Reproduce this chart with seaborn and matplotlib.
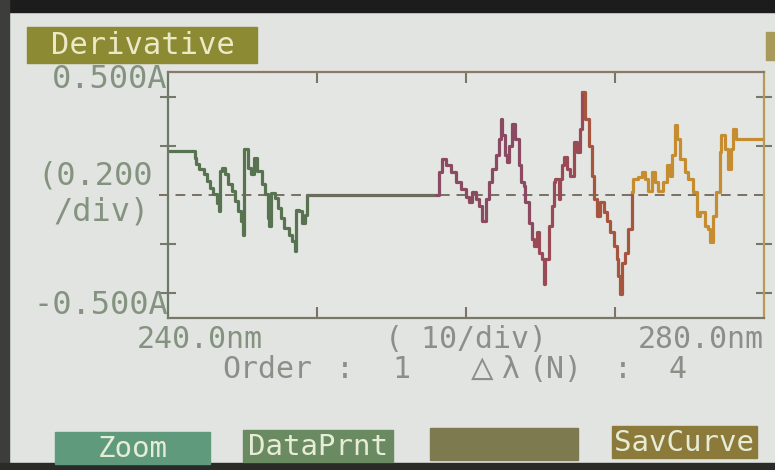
import numpy as np
import pandas as pd
import matplotlib
matplotlib.use('Agg')
import matplotlib.pyplot as plt
from matplotlib.patches import Rectangle
import seaborn as sns

# derivative trace (nm, A)
wavelength = [240.0, 241.8, 241.9, 242.1, 242.4, 242.6, 242.8, 243.0, 243.3, 243.4,
              243.5, 243.6, 243.8, 244.0, 244.3, 244.5, 244.7, 244.9, 245.0, 245.1,
              245.4, 245.6, 245.8, 246.0, 246.3, 246.5, 246.7, 246.8, 246.9, 247.2,
              247.4, 247.6, 247.8, 248.1, 248.3, 248.5, 248.6, 248.8, 249.0, 249.2,
              249.3, 258.0,
              258.19, 258.42, 258.64, 258.97, 259.31, 259.64, 259.98, 260.20, 260.42, 260.65,
              260.87, 261.09, 261.32, 261.54, 261.76, 261.99, 262.21, 262.32, 262.43, 262.65,
              262.76, 262.88, 263.10, 263.32, 263.55, 263.66, 263.88, 263.99, 264.21, 264.44,
              264.55, 264.77, 264.88, 265.11, 265.22, 265.33, 265.55, 265.77, 265.89, 266.00,
              266.22, 266.33, 266.44, 266.56, 266.78, 267.00, 267.22, 267.45, 267.67, 267.78,
              268.01, 268.23, 268.45, 268.56, 268.78, 269.01, 269.23, 269.45, 269.68, 269.90,
              270.12, 270.23, 270.35, 270.46, 270.68, 270.90, 271.12, 271.24, 271.57, 271.79,
              272.02, 272.24, 272.46, 272.69, 272.91, 273.24, 273.47, 273.69, 273.80, 274.02,
              274.13, 274.36, 274.69, 274.92, 275.25, 275.47, 275.70, 276.03, 276.25, 276.37,
              276.59, 276.81, 277.04, 277.14, 277.37, 277.59, 277.81, 277.93, 278.15, 280.0]
absorbance = [0.177, 0.152, 0.125, 0.104, 0.084, 0.057, 0.030, 0.003, -0.031, -0.065,
              0.098, 0.111, 0.084, 0.043, 0.016, -0.024, -0.065, -0.106, -0.161, 0.186,
              0.111, 0.084, 0.152, 0.098, 0.043, 0.003, -0.093, -0.127, 0.009, -0.011,
              -0.052, -0.093, -0.133, -0.161, -0.188, -0.229, -0.059, -0.065, -0.113, -0.080,
              0.0, 0.0,
              0.093, 0.147, 0.120, 0.093, 0.052, 0.024, -0.010, -0.030, 0.011, -0.016,
              -0.044, -0.105, -0.016, 0.052, 0.106, 0.161, 0.229, 0.310, 0.242, 0.161,
              0.133, 0.201, 0.290, 0.229, 0.120, 0.052, 0.038, -0.030, -0.112, -0.180,
              -0.207, -0.152, -0.234, -0.261, -0.363, -0.261, -0.125, -0.044, 0.052, 0.065,
              -0.016, 0.065, 0.120, 0.154, 0.106, 0.079, 0.215, 0.174, 0.269, 0.419,
              0.310, 0.201, 0.079, -0.016, -0.084, -0.030, -0.071, -0.105, -0.152, -0.207,
              -0.261, -0.329, -0.404, -0.275, -0.234, -0.139, 0.011, 0.065, 0.072, 0.093,
              0.065, 0.018, 0.093, 0.052, 0.018, 0.052, 0.120, 0.079, 0.161, 0.283,
              0.229, 0.147, 0.093, 0.065, 0.011, -0.084, -0.071, -0.125, -0.139, -0.193,
              -0.084, 0.011, 0.174, 0.242, 0.188, 0.106, 0.188, 0.269, 0.229, 0.229]

# colour bands along the trace
seg_edges = [240.0, 249.3, 258.0, 264.44, 267.78, 271.12, 280.0]
seg_names = ['g', 'flat', 'mauve', 'crimson', 'brown', 'orange']
seg_colors = ['#587350', '#6d6b5c', '#8a4a62', '#9a4a55', '#a6553f', '#c68c30']
x_ticks = [250, 260, 270]
y_ticks = [-0.4, -0.2, 0.2, 0.4]

wl = np.array(wavelength)
ab = np.array(absorbance)
parts = []
for i, name in enumerate(seg_names):
    m = (wl >= seg_edges[i] - 1e-6) & (wl <= seg_edges[i + 1] + 1e-6)
    parts.append(pd.DataFrame({'nm': wl[m], 'A': ab[m], 'seg': name}))
df = pd.concat(parts, ignore_index=True)

sns.set_theme(style='white')
mono = ['DejaVu Sans Mono', 'DejaVu Sans']
plt.rcParams['font.family'] = mono

W, H = 775, 470
def fx(x):
    return x / W
def fy(y):
    return 1 - y / H

fig = plt.figure(figsize=(7.75, 4.7), dpi=100, facecolor='#e2e4e1')

# bezel edges of the photo
fig.patches.append(Rectangle((0, fy(12)), 1, 12 / H, transform=fig.transFigure, color='#1c1c1c', zorder=0))
fig.patches.append(Rectangle((0, 0), 9 / W, 1, transform=fig.transFigure, color='#3d3e3c', zorder=0))
fig.patches.append(Rectangle((0, 0), 1, 7 / H, transform=fig.transFigure, color='#2a2a28', zorder=0))

ax = fig.add_axes([fx(168), fy(318), 596 / W, 246 / H])
ax.set_facecolor('#e4e6e3')

sns.lineplot(data=df, x='nm', y='A', hue='seg', palette=dict(zip(seg_names, seg_colors)),
             estimator=None, sort=False, legend=False, drawstyle='steps-post',
             linewidth=2.3, ax=ax)

ax.axhline(0, xmin=-0.015, xmax=1, color='#7a7062', lw=1.4, ls=(0, (5, 3.5)),
           clip_on=False, zorder=1)

ax.set_xlim(240, 280)
ax.set_ylim(-0.5, 0.5)
ax.set_xticks(x_ticks)
ax.set_yticks(y_ticks)
ax.set_xlabel('')
ax.set_ylabel('')
ax.tick_params(axis='x', which='both', top=True, bottom=True, direction='in', length=8,
               width=1.5, color='#7d7468', labelbottom=False)
ax.tick_params(axis='y', which='both', left=True, right=True, direction='inout', length=11,
               width=1.5, color='#76786a', labelleft=False)
for side, col in [('top', '#8a7868'), ('left', '#6c7868'), ('bottom', '#77776a'), ('right', '#b89a58')]:
    ax.spines[side].set_color(col)
    ax.spines[side].set_linewidth(1.6)

txt = '#84937f'
txt2 = '#8b8f88'
# title tab
fig.patches.append(Rectangle((fx(27), fy(63)), 230 / W, 36 / H, transform=fig.transFigure,
                             color='#8c8a32', zorder=1))
fig.text(fx(143), fy(46), 'Derivative', ha='center', va='center', size=22,
         color='#ebe9c6', family=mono)

# y labels
fig.text(fx(167), fy(79), '0.500A', ha='right', va='center', size=23, color=txt, family=mono)
fig.text(fx(37), fy(176), '(0.200', ha='left', va='center', size=23, color=txt, family=mono)
fig.text(fx(53), fy(212), '/div)', ha='left', va='center', size=23, color=txt, family=mono)
fig.text(fx(168), fy(305), '-0.500A', ha='right', va='center', size=23, color=txt, family=mono)

# x labels
fig.text(fx(200), fy(340), '240.0nm', ha='center', va='center', size=21.5, color=txt, family=mono)
fig.text(fx(466), fy(339), '( 10/div)', ha='center', va='center', size=21.5, color=txt2, family=mono)
fig.text(fx(701), fy(340), '280.0nm', ha='center', va='center', size=21.5, color=txt2, family=mono)

# order line
row = fy(369)
for s, x, sz in [('Order', 267, 21.5), (':', 345, 21.5), ('1', 401, 21.5), ('△', 482, 27),
                 ('λ', 510, 21.5), ('(N)', 556, 21.5), (':', 623, 21.5), ('4', 677, 21.5)]:
    fig.text(fx(x), row, s, ha='center', va='center', size=sz, color=txt2, family=mono)

# soft keys
buttons = [('Zoom', 55, 210, 432, 464, '#5f9a7c'),
           ('DataPrnt', 243, 393, 430, 462, '#6a8a62'),
           ('', 430, 578, 428, 460, '#7c7a4e'),
           ('SavCurve', 612, 757, 426, 458, '#8c7a3a')]
for label, x0, x1, y0, y1, col in buttons:
    fig.patches.append(Rectangle((fx(x0), fy(y1)), (x1 - x0) / W, (y1 - y0) / H,
                                 transform=fig.transFigure, color=col, zorder=1))
    if label:
        fig.text(fx((x0 + x1) / 2), fy((y0 + y1) / 2 + 1), label, ha='center', va='center',
                 size=21, color='#e6ecd6', family=mono)

# small icon at top right
fig.patches.append(Rectangle((fx(766), fy(60)), 9 / W, 28 / H, transform=fig.transFigure,
                             color='#a89a5a', zorder=1))

fig.savefig('out.png', dpi=100, facecolor=fig.get_facecolor())
